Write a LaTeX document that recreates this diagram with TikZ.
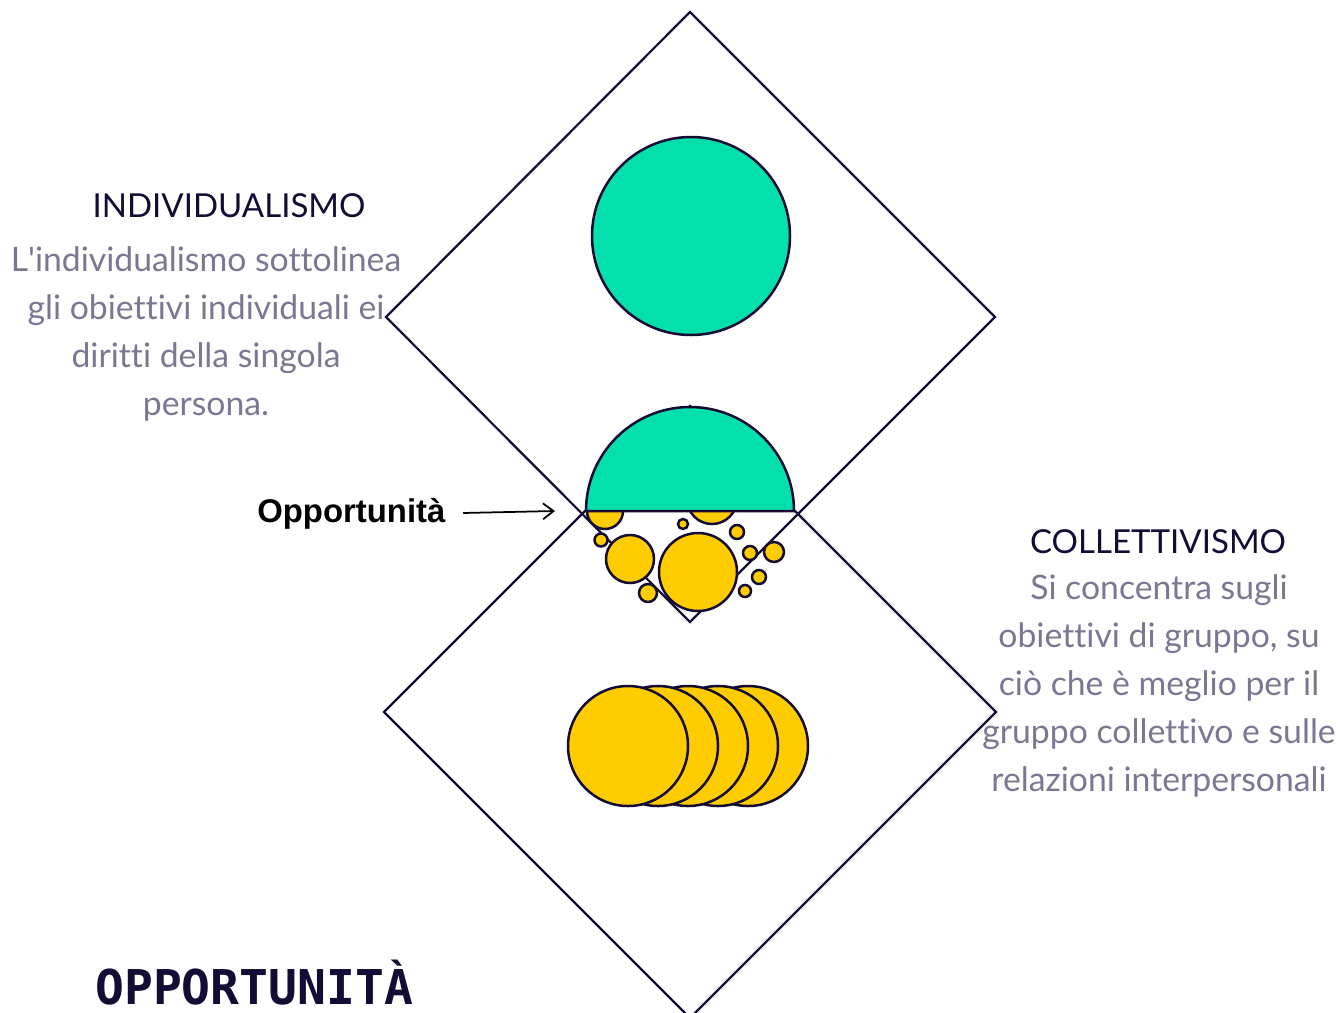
\documentclass[tikz,border=0pt]{standalone}
\usepackage{fontspec}
\setmainfont{Lato}[Ligatures={NoCommon}]
\newfontfamily\labelsans{Liberation Sans}
\newfontfamily\titlemono{DejaVu Sans Mono}
\usepackage{tikz}
\usetikzlibrary{arrows.meta}
\definecolor{mintcol}{RGB}{3,224,174}
\definecolor{sunnycol}{RGB}{255,204,0}
\definecolor{inkcol}{RGB}{20,12,52}
\definecolor{greycol}{RGB}{123,119,147}

\begin{document}
\begin{tikzpicture}[x=0.02cm,y=-0.02cm,
  frame/.style={draw=inkcol,line width=0.045cm,line join=miter},
  blob/.style={draw=inkcol,line width=0.05cm,fill=sunnycol},
  head/.style={inkcol,font=\fontsize{18.8}{22}\selectfont,inner sep=0,anchor=base},
  body/.style={greycol,font=\fontsize{19.2}{27.3}\selectfont,align=center,inner sep=0}]
\useasboundingbox (0,0) rectangle (1339,1012);
% the two squares on their corners
\draw[frame] (690,12) -- (995,317) -- (690,622) -- (386,317) -- cycle;
\draw[frame] (690,406) -- (996,712) -- (690,1018) -- (384,712) -- cycle;
% small crowd in the overlap
\foreach \cx/\cy/\r in {605/511/18,712/499/25,683/524/5,601/540/6.5,630/559/24,698/572/39,
  648/593/9,737/532/7,750/553/7,774/552/10,759/577/7,745/591/6}{
  \draw[blob] (\cx,\cy) circle[radius=\r];
}
\filldraw[draw=inkcol,line width=0.05cm,fill=mintcol] (586,511) arc[start angle=180,end angle=360,radius=104] -- cycle;
\filldraw[draw=inkcol,line width=0.05cm,fill=mintcol] (691,236) circle[radius=99];
% row of overlapping discs, left one on top
\foreach \cx in {748,718,688,658,628}{
  \draw[blob] (\cx,746) circle[radius=60];
}
\node[head] (indhead) at (229,217) {INDIVIDUALISMO};
\node[body] (indtext) at (206,334) {L\textquotesingle individualismo sottolinea\\gli obiettivi individuali ei\\diritti della singola\\persona.};
\node[head] (colhead) at (1158,553) {COLLETTIVISMO};
\node[body] (coltext) at (1159,686) {Si concentra sugli\\obiettivi di gruppo, su\\ciò che è meglio per il\\gruppo collettivo e sulle\\relazioni interpersonali};
\node[anchor=base west,inner sep=0,font=\labelsans\bfseries\fontsize{18.7}{21}\selectfont] (opp) at (257,522) {Opportunità};
\coordinate (tip) at (555,511);
\draw[-{Straight Barb[length=6pt,width=9pt]},line width=0.035cm,shorten <=10pt] (opp.east) -- (tip);
\node[anchor=base west,inner sep=0,text depth=0pt,inkcol,font=\titlemono\bfseries\fontsize{27.3}{30}\selectfont] (title) at (95,1004) {OPPORTUNITÀ};
\end{tikzpicture}
\end{document}
